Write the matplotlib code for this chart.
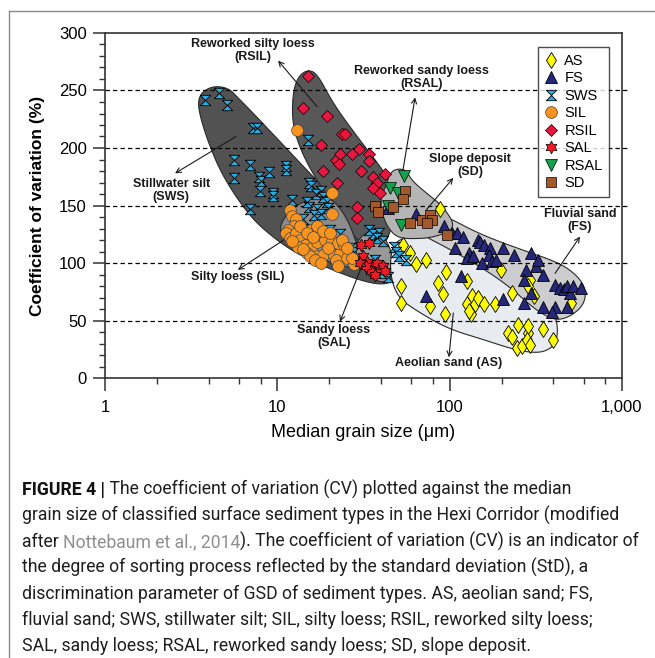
import numpy as np
import matplotlib
matplotlib.use('Agg')
import matplotlib.pyplot as plt
from matplotlib.path import Path
from matplotlib.lines import Line2D
from matplotlib.ticker import NullFormatter

plt.rcParams['font.family'] = ['Liberation Sans', 'DejaVu Sans']

# ---- data (median grain size in um, CV in %) ----
as_x = [88, 53.5, 58.5, 63.5, 72.6, 52, 52, 76.7, 85, 95, 91, 94, 126, 126, 133, 130, 134, 141, 146,
        158, 183, 198, 229, 217, 229, 250, 246, 262, 284, 284, 280, 292, 292, 284, 309, 346, 400, 508]
as_y = [147, 116, 109, 99, 103, 80, 65, 63, 83, 92, 73, 56, 84, 64, 56, 58, 71, 64, 70,
        64, 64, 94, 74, 39, 36, 46, 26, 28, 39, 45, 33, 29, 85, 80, 71, 43, 33, 65]

fs_x = [44, 63.8, 93, 103, 110, 120, 107, 130, 126, 146, 150, 158, 172, 169, 154, 204, 177, 185, 237,
        297, 277, 318, 327, 346, 409, 438, 463, 478, 498, 523, 582, 478, 409, 390, 72.6, 117, 204, 269,
        269, 297, 346, 136]
fs_y = [148, 143, 132, 126, 126, 123, 113, 109, 104, 120, 118, 116, 113, 107, 100, 113, 102, 103, 107,
        109, 94, 97, 103, 90, 81, 78, 77, 80, 74, 80, 78, 62, 62, 57, 71, 89, 69, 65,
        85, 74, 62, 106]

sws_x = [3.8, 4.6, 5.1, 7.2, 7.6, 15.0, 5.6, 5.6, 6.9, 7.8, 8.0, 8.9, 9.5, 7.9, 9.5, 6.9, 11.3, 11.3,
         12.2, 15.2, 15.6, 16.8, 18.0, 18.3, 15.2, 17.0, 14.9, 16.3, 18.0, 19.3, 19.6, 14.1, 14.7, 16.7,
         17.0, 20.1, 23.1, 22.5, 25.2, 26.3, 28.0, 34, 35.8, 38.9, 38, 41, 47.6, 49, 56, 51, 37.5, 40,
         44, 37]
sws_y = [242, 248, 237, 217, 217, 207, 190, 174, 185, 175, 171, 179, 161, 163, 158, 147, 184, 181,
         155, 170, 167, 160, 163, 157, 149, 147, 153, 142, 143, 153, 148, 138, 129, 122,
         128, 129, 125, 109, 106, 113, 110, 129, 125, 126, 122, 119, 114, 110, 103, 106, 94, 91,
         88, 103]

sil_x = [13.0, 20.7, 20.7, 11.8, 12.2, 12.9, 12.5, 11.5, 11.2, 11.8, 12.9, 13.6, 14.4, 15.6, 14.8,
         17, 18.5, 20.1, 21.2, 23.1, 22, 25.2, 27.7, 27, 17, 18, 19, 20.7, 22.5, 24.5, 15.6, 17,
         18.5, 20.1, 13.6, 14.8, 16.2, 13.2, 15.4, 16.5, 12.2, 14, 18, 19.6, 23.8, 25.2, 22.5]
sil_y = [216, 161, 143, 146, 141, 138, 132, 129, 126, 122, 126, 120, 116, 113, 109,
         106, 107, 112, 107, 109, 103, 104, 99, 104, 118, 125, 120, 119, 117, 116, 129, 132,
         128, 126, 132, 126, 123, 114, 106, 103, 119, 112, 100, 113, 120, 113, 97]

rsil_x = [15.1, 14.0, 19.4, 23.8, 24.8, 18.0, 29.7, 21.9, 23, 27, 34, 22.7, 34, 18.5, 30.5, 42, 35.8,
          38, 22.2, 35.8, 39.5, 29, 29]
rsil_y = [263, 235, 228, 212, 212, 203, 199, 190, 195, 195, 195, 186, 189, 180, 180, 177, 175,
          170, 170, 165, 161, 149, 139]

sal_x = [30.5, 34, 31.5, 33, 36, 38, 39, 41, 35, 32.5, 30, 37, 42]
sal_y = [116, 117, 106, 101, 97, 100, 94, 97, 93, 97, 100, 90, 93]

rsal_x = [45, 54, 50, 44, 52]
rsal_y = [165, 176, 161, 150, 133]

sd_x = [37, 38.5, 46.7, 55, 53.6, 59, 69, 76.7, 79, 73.5, 96.5]
sd_y = [150, 144, 149, 163, 156, 135, 137, 142, 137, 135, 124]

# region outlines (um, %)
sws_zone = [(3.45, 240), (3.66, 249), (4.3, 254), (5.2, 252), (5.8, 245), (7.6, 227), (11.9, 196),
            (18.4, 166), (25, 148), (33, 133), (42, 117), (48, 104), (50, 92), (47, 84), (40, 81),
            (30, 85), (20, 95), (13, 108), (9.5, 122), (7.2, 138), (5.6, 160), (4.6, 182),
            (4.0, 204), (3.6, 225)]
rsil_zone = [(14.9, 268), (17, 265), (21, 239), (29, 210), (41, 181), (47, 165), (48, 145),
             (45, 125), (40, 112), (35, 110), (30, 118), (24, 135), (20.2, 155), (16, 178),
             (13.5, 200), (12.2, 222), (12.3, 248), (13.2, 262)]
sil_zone = [(10.2, 128), (11, 140), (12.3, 148), (15, 155), (19, 158), (22, 152), (25.5, 138),
            (28.5, 120), (30.5, 102), (29, 95), (25, 97), (20, 101), (15, 109), (11.5, 118)]
sal_zone = [(29, 118), (32, 126), (37, 127), (42, 122), (46, 110), (47, 95), (45, 85), (40, 83),
            (34, 88), (30, 100), (28.5, 110)]
as_zone = [(46, 115), (55, 123), (77, 124), (110, 118), (160, 105), (250, 88), (330, 72), (400, 58),
           (425, 45), (415, 30), (360, 23), (300, 22), (233, 25), (160, 33), (97, 43), (65, 58),
           (50, 70), (45, 90)]
fs_zone = [(55, 145), (75, 145), (97, 140), (150, 125), (256, 112), (437, 100), (560, 88), (620, 76),
           (600, 64), (520, 55), (430, 50), (360, 54), (300, 62), (220, 80), (150, 97), (100, 112),
           (70, 124), (55, 135)]
rsal_zone = [(43, 168), (45, 178), (49, 182), (56, 181), (60, 172), (73, 161), (92, 149),
             (110, 130), (80, 122), (60, 121), (50, 122), (44, 130), (40, 145), (40, 158)]


def smooth(pts, n=4):
    p = np.array([(np.log10(x), y) for x, y in pts])
    for _ in range(n):
        q = np.roll(p, -1, axis=0)
        out = np.empty((2 * len(p), 2))
        out[0::2] = 0.75 * p + 0.25 * q
        out[1::2] = 0.25 * p + 0.75 * q
        p = out
    return 10 ** p[:, 0], p[:, 1]


# custom markers
hourglass = Path([(-1, 1), (1, 1), (0, 0), (1, -1), (-1, -1), (0, 0), (-1, 1)])
ang = np.deg2rad(np.arange(12) * 30 + 90)
rad = np.where(np.arange(12) % 2 == 0, 1.0, 1 / np.sqrt(3))
hexagram = Path(np.c_[rad * np.cos(ang), rad * np.sin(ang)].tolist() + [[0, 1]], closed=True)

fig = plt.figure(figsize=(6.55, 6.58), dpi=100)
ax = fig.add_axes([105 / 655, 1 - 378 / 658, 517 / 655, 345 / 658])

zones = [(sws_zone, '#525252'), (rsil_zone, '#585858'), (sil_zone, '#8c8c8c'), (sal_zone, '#989898'),
         (as_zone, '#e8ebef'), (fs_zone, '#cdcdcf'), (rsal_zone, '#b5b5b5')]
for z, c in zones:
    zx, zy = smooth(z)
    ax.fill(zx, zy, facecolor=c, edgecolor='#2a2a2a', lw=0.8, zorder=1)

for yv in [50, 100, 150, 200, 250]:
    ax.plot([0, 1.015], [yv, yv], transform=ax.get_yaxis_transform(), color='black',
            lw=0.9, ls=(0, (3.5, 2.5)), clip_on=False, zorder=2)

ms = 8
ax.plot(as_x, as_y, ls='none', marker='d', ms=ms + 0.5, mfc='#ffff00', mec='k', mew=0.6, label='AS', zorder=3)
ax.plot(fs_x, fs_y, ls='none', marker='^', ms=ms, mfc='#25287a', mec='k', mew=0.6, label='FS', zorder=3)
ax.plot(sws_x, sws_y, ls='none', marker=hourglass, ms=ms - 0.5, mfc='#29abe2', mec='k', mew=0.6, label='SWS', zorder=3)
ax.plot(sil_x, sil_y, ls='none', marker='o', ms=ms + 0.5, mfc='#f7931e', mec='#444444', mew=0.5, label='SIL', zorder=3)
ax.plot(rsil_x, rsil_y, ls='none', marker='D', ms=ms - 2, mfc='#e8173f', mec='k', mew=0.5, label='RSIL', zorder=3)
ax.plot(sal_x, sal_y, ls='none', marker=hexagram, ms=ms + 1, mfc='#ee1c25', mec='k', mew=0.5, label='SAL', zorder=3)
ax.plot(rsal_x, rsal_y, ls='none', marker='v', ms=ms, mfc='#13a04a', mec='k', mew=0.5, label='RSAL', zorder=3)
ax.plot(sd_x, sd_y, ls='none', marker='s', ms=ms - 1, mfc='#a5582a', mec='k', mew=0.5, label='SD', zorder=3)

# labels and arrows
notes = [
    ('Reworked silty loess\n(RSIL)', (7.2, 285), (10.1, 276), (17.0, 236)),
    ('Reworked sandy loess\n(RSAL)', (69, 261), (63, 244), (53.6, 181)),
    ('Slope deposit\n(SD)', (131, 185), (105, 174), (73, 146)),
    ('Fluvial sand\n(FS)', (571, 137), (571, 123), (409, 91)),
    ('Stillwater silt\n(SWS)', (2.42, 163), (2.55, 178), (5.76, 210)),
    ('Silty loess (SIL)', (5.9, 88), (5.9, 94), (10.9, 120)),
    ('Sandy loess\n(SAL)', (21.3, 36), (23.1, 49), (31.4, 100)),
    ('Aeolian sand (AS)', (99, 13), (99, 18), (105, 56.5)),
]
for txt, pos, head, tail in notes:
    ax.text(pos[0], pos[1], txt, ha='center', va='center', fontsize=9, fontweight='bold',
            color='#1a1a1a', linespacing=1.1, zorder=4)
    ax.annotate('', xy=head, xytext=tail,
                arrowprops=dict(arrowstyle='->', color='#1a1a1a', lw=0.8, mutation_scale=9,
                                shrinkA=0, shrinkB=0), zorder=4)

ax.set_xscale('log')
ax.set_xlim(1, 1000)
ax.set_ylim(0, 300)
ax.set_xticks([1, 10, 100, 1000])
ax.set_xticklabels(['1', '10', '100', '1,000'])
ax.set_xticks([2, 4, 6, 8, 20, 40, 60, 80, 200, 400, 600, 800], minor=True)
ax.xaxis.set_minor_formatter(NullFormatter())
ax.set_yticks(np.arange(0, 301, 50))
ax.set_yticks(np.arange(0, 301, 10), minor=True)
ax.tick_params(which='major', direction='out', length=9, width=1.1, labelsize=12, pad=4, color='#333333')
ax.tick_params(which='minor', direction='out', length=4.5, width=1.0, color='#333333')
ax.tick_params(axis='x', which='major', pad=7)
for s in ax.spines.values():
    s.set_linewidth(1.2)
    s.set_color('#333333')

ax.set_xlabel('Median grain size (\u03bcm)', fontsize=13, labelpad=6)
ax.set_ylabel('Coefficient of variation (%)', fontsize=12.5, fontweight='bold', labelpad=10)

leg = ax.legend(loc='upper right', bbox_to_anchor=(0.975, 0.959), fontsize=10.5, frameon=True,
                fancybox=False, edgecolor='#222222', labelspacing=0.24, handlelength=0.9,
                handletextpad=0.45, borderpad=0.45, borderaxespad=0)
leg.get_frame().set_linewidth(1.0)

# frame around the panel
fig.add_artist(Line2D([9 / 655, 9 / 655], [0, 1 - 11 / 658], color='#8a8a8a', lw=1.0))
fig.add_artist(Line2D([9 / 655, 1], [1 - 11 / 658, 1 - 11 / 658], color='#8a8a8a', lw=1.0))

# caption
cap_font = ['Roboto', 'DejaVu Sans']
cap_size = 12.7
regular = dict(fontsize=cap_size, family=cap_font, fontweight='normal', color='#1e1e1e')
bold = dict(fontsize=cap_size, family=cap_font, fontweight='bold', color='#111111')
link = dict(fontsize=cap_size, family=cap_font, fontweight='normal', color='#8f8f8f')
caption = [
    [('FIGURE 4 |', bold), (' The coefficient of variation (CV) plotted against the median', regular)],
    [('grain size of classified surface sediment types in the Hexi Corridor (modified', regular)],
    [('after ', regular), ('Nottebaum et al., 2014', link),
     ('). The coefficient of variation (CV) is an indicator of', regular)],
    [('the degree of sorting process reflected by the standard deviation (StD), a', regular)],
    [('discrimination parameter of GSD of sediment types. AS, aeolian sand; FS,', regular)],
    [('fluvial sand; SWS, stillwater silt; SIL, silty loess; RSIL, reworked silty loess;', regular)],
    [('SAL, sandy loess; RSAL, reworked sandy loess; SD, slope deposit.', regular)],
]
renderer = fig.canvas.get_renderer()
for i, pieces in enumerate(caption):
    ybase = 1 - (495 + i * 26.0) / 658
    xpos = 22 / 655
    for s, kw in pieces:
        t = fig.text(xpos, ybase, s, ha='left', va='baseline', **kw)
        bb = t.get_window_extent(renderer=renderer)
        xpos = bb.x1 / fig.bbox.width

fig.savefig('out.png', dpi=100)
